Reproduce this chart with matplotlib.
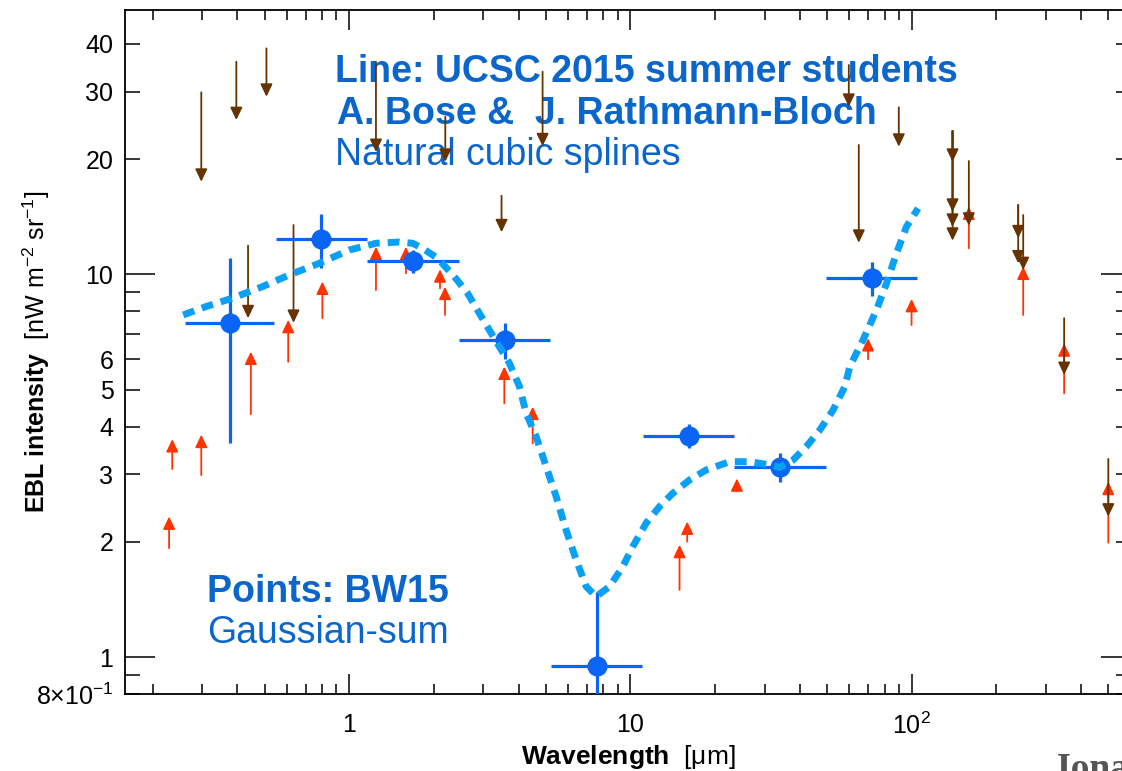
import matplotlib
matplotlib.use('Agg')
import matplotlib.pyplot as plt
from matplotlib.ticker import FixedLocator, NullFormatter

plt.rcParams['font.family'] = ['Liberation Sans', 'DejaVu Sans']
plt.rcParams['mathtext.fontset'] = 'custom'
plt.rcParams['mathtext.rm'] = 'Liberation Sans'
plt.rcParams['mathtext.it'] = 'Liberation Sans:italic'
plt.rcParams['mathtext.bf'] = 'Liberation Sans:bold'

# BW15 points: wavelength (um) with bin edges, intensity with error range
bw_wl = [0.377, 0.797, 1.68, 3.58, 7.59, 16.1, 33.9, 72.2]
bw_wl_lo = [0.261, 0.548, 1.16, 2.46, 5.22, 11.06, 23.4, 49.7]
bw_wl_hi = [0.541, 1.156, 2.45, 5.19, 11.0, 23.3, 49.4, 104.5]
bw_i = [7.46, 12.37, 10.83, 6.74, 0.951, 3.78, 3.13, 9.80]
bw_i_lo = [3.63, 10.4, 10.1, 6.0, 0.6, 3.51, 2.87, 8.78]
bw_i_hi = [11.05, 14.35, 11.6, 7.45, 1.48, 4.06, 3.41, 10.79]

# natural cubic spline through the points (UCSC 2015)
spl_wl = [0.257, 0.309, 0.384, 0.491, 0.612, 0.782, 1.0, 1.245, 1.506, 1.68,
          1.823, 2.062, 2.364, 2.636, 2.902, 3.149, 3.418, 3.71, 4.03, 4.255,
          4.62, 5.01, 5.44, 5.90, 6.41, 6.96, 7.55, 8.42, 9.39, 10.19,
          11.37, 12.68, 14.14, 16.22, 18.59, 22.5, 26.5, 31.2, 33.9, 37.8,
          42.2, 47.1, 52.5, 57.8, 60.2, 67.1, 74.9, 81.3, 88.2, 95.7, 105.3]
spl_i = [7.83, 8.23, 8.66, 9.28, 9.96, 10.68, 11.57, 12.05, 12.14, 12.05,
         11.69, 11.01, 9.86, 8.92, 7.91, 7.15, 6.47, 5.86, 5.09, 4.34,
         3.77, 3.15, 2.63, 2.15, 1.795, 1.529, 1.44, 1.529, 1.724, 1.945,
         2.24, 2.473, 2.68, 2.904, 3.083, 3.24, 3.24, 3.18, 3.13, 3.27,
         3.55, 3.92, 4.42, 5.09, 5.74, 6.74, 8.07, 9.47, 11.34, 13.31, 14.87]

# lower limits (arrow from tail up to tip)
low_wl = [0.229, 0.235, 0.298, 0.447, 0.607, 0.803, 1.245, 1.591, 2.103, 2.191,
          3.56, 4.49, 14.94, 15.91, 23.9, 69.9, 99.8, 159.5, 248.9, 348, 499.5]
low_tail = [1.926, 3.10, 2.99, 4.31, 5.91, 7.68, 9.10, 10.06, 9.19, 7.83,
            4.60, 3.62, 1.498, 2.003, 2.71, 6.00, 7.37, 11.69, 7.83, 4.89, 1.991]
low_tip = [2.33, 3.71, 3.81, 6.28, 7.60, 9.57, 11.80, 11.80, 10.30, 9.28,
           5.74, 4.51, 1.965, 2.26, 2.93, 6.81, 8.62, 15.02, 10.47, 6.60, 2.87]

# upper limits (arrow from tail down to tip)
up_wl = [0.298, 0.397, 0.508, 0.437, 0.634, 1.245, 2.196, 3.48, 4.87, 59.7,
         64.8, 89.9, 139.6, 139.6, 139.6, 139.6, 159.5, 238.9, 238.9, 248.9,
         348, 499.5]
up_tail = [29.87, 35.9, 38.9, 11.88, 13.45, 35.9, 25.79, 16.04, 33.8, 35.2,
           21.76, 27.3, 23.67, 23.67, 23.67, 23.67, 19.76, 15.17, 15.17, 14.28,
           7.68, 3.295]
up_tip = [17.45, 25.28, 29.09, 7.68, 7.47, 20.87, 19.68, 12.88, 21.6, 27.39,
          12.09, 21.54, 19.68, 14.57, 13.31, 12.24, 13.4, 12.42, 10.68, 10.26,
          5.46, 2.33]

y_major = [1, 10]
y_major_labels = ['1', '10']
y_minor = [0.8, 0.9, 2, 3, 4, 5, 6, 7, 8, 9, 20, 30, 40]
y_minor_labels = [r'8$\times$10$^{-1}$', '', '2', '3', '4', '5', '6', '', '', '', '20', '30', '40']
x_major = [1, 10, 100]
x_major_labels = ['1', '10', r'10$^2$']
x_minor = [0.2, 0.3, 0.4, 0.5, 0.6, 0.7, 0.8, 0.9,
           2, 3, 4, 5, 6, 7, 8, 9,
           20, 30, 40, 50, 60, 70, 80, 90,
           200, 300, 400, 500]

TEXT_BLUE = '#0b66cc'
PT_BLUE = '#0a64f5'
SPL_BLUE = '#0aa0f5'
RED = '#ff3300'
BROWN = '#663300'

W, H = 1122, 771
fig = plt.figure(figsize=(W / 100, H / 100), dpi=100)
ax = fig.add_axes([125.3 / W, 1 - 694.3 / H, (1130.7 - 125.3) / W, (694.3 - 10) / H])
ax.set_xscale('log')
ax.set_yscale('log')
ax.set_xlim(0.16, 600)
ax.set_ylim(0.8, 49)


def fpos(x, y):
    return x / W, 1 - y / H


# limits as arrows
for wl, t0, t1 in zip(low_wl, low_tail, low_tip):
    ax.annotate('', xy=(wl, t1), xytext=(wl, t0),
                arrowprops=dict(arrowstyle='-|>,head_length=0.75,head_width=0.36',
                                color=RED, lw=1.3, shrinkA=0, shrinkB=0),
                zorder=2)
for wl, t0, t1 in zip(up_wl, up_tail, up_tip):
    ax.annotate('', xy=(wl, t1), xytext=(wl, t0),
                arrowprops=dict(arrowstyle='-|>,head_length=0.75,head_width=0.36',
                                color=BROWN, lw=1.3, shrinkA=0, shrinkB=0),
                zorder=2)

xerr = [[w - lo for w, lo in zip(bw_wl, bw_wl_lo)], [hi - w for w, hi in zip(bw_wl, bw_wl_hi)]]
yerr = [[v - lo for v, lo in zip(bw_i, bw_i_lo)], [hi - v for v, hi in zip(bw_i, bw_i_hi)]]
ax.errorbar(bw_wl, bw_i, xerr=xerr, yerr=yerr, fmt='o', ms=13.5, color=PT_BLUE,
            ecolor=PT_BLUE, elinewidth=2.3, capsize=0, zorder=3)

ax.plot(spl_wl, spl_i, color=SPL_BLUE, lw=5, dashes=(1.7, 1.15),
        solid_capstyle='butt', dash_capstyle='butt', zorder=4)

# axes styling
for s in ax.spines.values():
    s.set_linewidth(1.3)
ax.xaxis.set_major_locator(FixedLocator(x_major))
ax.xaxis.set_minor_locator(FixedLocator(x_minor))
ax.set_xticklabels(x_major_labels)
ax.xaxis.set_minor_formatter(NullFormatter())
ax.set_yticks(y_major, labels=y_major_labels)
ax.set_yticks(y_minor, labels=y_minor_labels, minor=True)
ax.tick_params(which='both', direction='in', top=True, right=True,
               width=1.1, labelsize=18, colors='black')
ax.tick_params(axis='x', which='major', length=14.4, pad=13.5)
ax.tick_params(axis='x', which='minor', length=7.2)
ax.tick_params(axis='y', which='major', length=21.6, pad=8.5)
ax.tick_params(axis='y', which='minor', length=10.8, pad=8.5)

fig.text(*fpos(36, 352), r'$\mathbf{EBL\ intensity}$  [nW m$^{-2}$ sr$^{-1}$]',
         rotation=90, ha='center', va='center', fontsize=18)
fig.text(*fpos(628, 757), r'$\mathbf{Wavelength}$  [μm]',
         ha='center', va='center', fontsize=19)

tkw = dict(transform=fig.transFigure, color=TEXT_BLUE, fontsize=27,
           ha='left', va='baseline', zorder=1)
ax.text(*fpos(335, 81.7), 'Line: UCSC 2015 summer students', fontweight='bold', **tkw)
ax.text(*fpos(337, 124), 'A. Bose &  J. Rathmann-Bloch', fontweight='bold', **tkw)
ax.text(*fpos(335, 165), 'Natural cubic splines', **tkw)
ax.text(*fpos(207, 601.7), 'Points: BW15', fontweight='bold', **tkw)
ax.text(*fpos(207, 643.3), 'Gaussian-sum', **tkw)

# credit line running off the bottom-right corner
fig.text(*fpos(1052, 779), 'Jonathan Biteau', family='Liberation Serif',
         fontweight='bold', color='#555555', fontsize=27, ha='left', va='baseline')

fig.savefig('out.png', dpi=100)
